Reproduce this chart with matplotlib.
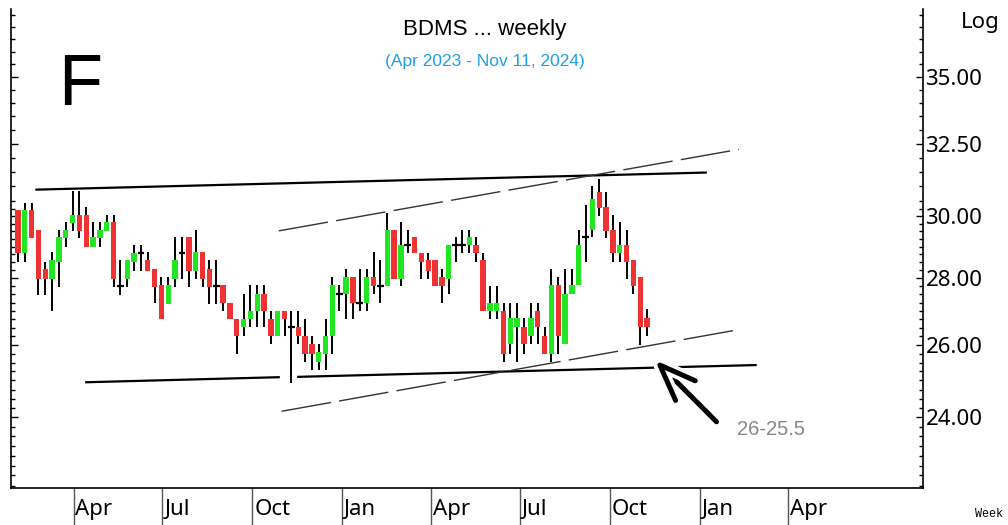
import numpy as np
import pandas as pd
import matplotlib
matplotlib.use('Agg')
import matplotlib.pyplot as plt
import matplotlib.dates as mdates
import matplotlib.transforms as mtransforms
import matplotlib.patheffects as pe
from matplotlib.ticker import FixedLocator, FixedFormatter, NullFormatter

# weekly bars, Feb 2023 .. Nov 2024
weeks = pd.date_range('2023-02-03', periods=93, freq='W-FRI')
opens = [30.20, 28.78, 30.20, 29.54, 28.29, 27.98, 28.51, 29.28, 29.76, 30.03,
         30.03, 29.00, 29.28, 29.49, 29.81, 27.76, 27.98, 28.51, 28.80, 28.57,
         28.29, 27.78, 27.22, 27.98, 28.80, 29.32, 28.24, 28.83, 28.29, 27.76,
         27.78, 27.25, 26.76, 26.52, 26.76, 27.00, 27.52, 26.76, 26.27, 27.00,
         26.54, 26.52, 26.27, 26.03, 25.52, 25.75, 26.27, 27.52, 27.52, 28.03,
         27.25, 27.25, 28.03, 27.75, 27.75, 29.54, 27.98, 29.06, 29.30, 28.80,
         28.57, 28.57, 28.03, 27.98, 29.06, 29.06, 29.06, 29.06, 28.57, 27.00,
         27.00, 27.00, 26.03, 26.52, 26.54, 26.27, 27.00, 26.27, 25.75, 27.78,
         26.03, 27.52, 27.78, 29.30, 29.54, 30.80, 30.31, 29.54, 28.80, 29.06,
         28.57, 28.05, 26.79]
highs = [30.20, 30.45, 30.45, 29.54, 28.51, 28.83, 29.54, 29.81, 30.83, 30.83,
         30.31, 29.81, 29.81, 30.03, 30.03, 28.57, 28.57, 29.06, 29.06, 28.83,
         28.29, 28.03, 28.03, 29.32, 29.32, 29.32, 29.54, 28.83, 28.57, 28.57,
         27.78, 27.25, 26.76, 27.52, 27.78, 27.78, 27.78, 27.00, 27.00, 27.00,
         27.00, 27.00, 26.76, 26.27, 26.03, 26.76, 28.03, 27.78, 28.29, 28.03,
         28.29, 28.29, 28.83, 28.57, 30.09, 29.54, 29.81, 29.54, 29.30, 28.80,
         28.80, 28.57, 28.29, 29.06, 29.30, 29.54, 29.54, 29.30, 28.80, 27.75,
         27.75, 27.25, 27.25, 27.25, 26.79, 27.25, 27.25, 26.52, 28.29, 28.03,
         28.29, 28.29, 29.54, 30.37, 31.00, 31.27, 30.80, 30.03, 29.81, 29.54,
         28.57, 28.05, 27.06]
lows = [28.51, 28.51, 29.28, 27.47, 27.47, 27.00, 27.73, 29.00, 29.49, 29.28,
        29.00, 29.00, 29.00, 29.49, 27.73, 27.47, 27.73, 28.24, 28.24, 28.24,
        27.25, 26.76, 27.22, 27.73, 27.98, 27.73, 27.98, 27.73, 27.22, 27.22,
        27.00, 26.76, 25.75, 26.27, 26.52, 26.52, 26.52, 26.03, 26.27, 26.27,
        24.94, 26.03, 25.52, 25.29, 25.29, 25.29, 25.75, 27.00, 26.76, 26.76,
        27.00, 27.00, 27.52, 27.25, 27.75, 27.98, 27.75, 28.78, 28.80, 27.98,
        27.98, 27.75, 27.25, 27.52, 28.51, 28.78, 28.78, 28.51, 27.00, 26.76,
        26.76, 25.52, 25.75, 25.52, 25.75, 26.03, 26.03, 25.75, 25.52, 25.75,
        26.03, 27.52, 27.78, 28.51, 29.30, 30.01, 29.27, 28.51, 28.51, 27.98,
        27.52, 26.00, 26.27]
closes = [28.78, 30.20, 29.28, 27.98, 27.98, 28.57, 29.32, 29.54, 30.03, 29.49,
          29.00, 29.30, 29.54, 29.81, 27.98, 27.76, 28.57, 28.80, 28.80, 28.24,
          27.73, 26.76, 27.78, 28.57, 28.80, 28.24, 28.83, 27.98, 27.73, 27.76,
          27.25, 26.76, 26.27, 26.76, 27.00, 27.52, 27.00, 26.27, 27.00, 26.76,
          26.54, 26.27, 25.75, 25.75, 25.80, 26.27, 27.78, 27.52, 28.03, 27.25,
          27.25, 28.03, 27.75, 27.75, 29.54, 27.98, 29.06, 29.06, 28.80, 28.51,
          28.24, 27.75, 27.75, 29.06, 29.06, 29.06, 29.30, 28.78, 27.00, 27.25,
          27.25, 25.75, 26.79, 26.79, 26.03, 26.79, 26.52, 25.75, 27.78, 26.27,
          27.52, 27.78, 29.06, 29.30, 30.56, 30.28, 29.51, 28.80, 29.06, 28.51,
          27.75, 26.54, 26.54]

quarter_dates = ['2023-04-01', '2023-07-01', '2023-10-01', '2024-01-01', '2024-04-01',
                 '2024-07-01', '2024-10-01', '2025-01-01', '2025-04-01']
quarter_labels = ['Apr', 'Jul', 'Oct', 'Jan', 'Apr', 'Jul', 'Oct', 'Jan', 'Apr']
price_ticks = [24, 26, 28, 30, 32.5, 35]

# hand drawn trend lines (date, price)
top_line = (['2023-02-22', '2025-01-07'], [30.89, 31.48])
base_line_a = (['2023-04-14', '2023-10-28'], [24.95, 25.09])
base_line_b = (['2023-11-17', '2025-02-27'], [25.10, 25.43])
chan_upper = (['2023-10-28', '2025-02-10'], [29.51, 32.30])
chan_lower = (['2023-10-31', '2025-02-12'], [24.16, 26.46])
arrow_tip = ('2024-11-16', 25.57)
arrow_tail = ('2025-01-18', 23.88)
note_pos = ('2025-02-08', 23.53)

plt.rcParams['font.family'] = 'Noto Sans'


def dnum(d):
    return mdates.date2num(pd.to_datetime(d))


fig = plt.figure(figsize=(10.08, 5.25), dpi=100)
ax = fig.add_axes([0.0109, 0.0705, 0.9045, 0.9124])

x = mdates.date2num(weeks)
o = np.array(opens)
c = np.array(closes)
up = c >= o
cols = np.where(up, '#22e622', '#f03232')

ax.vlines(x, lows, highs, color='black', lw=1.4, zorder=2)
ax.bar(x, np.abs(c - o), bottom=np.minimum(o, c), width=5.5, color=cols, linewidth=0, zorder=3)
doji = np.abs(c - o) < 0.02
ax.hlines(o[doji], x[doji] - 3.5, x[doji] + 3.5, color='black', lw=1.6, zorder=3)

for xs, ys in [top_line, base_line_a, base_line_b]:
    ax.plot(dnum(xs), ys, color='black', lw=1.6, zorder=2)
for xs, ys in [chan_upper, chan_lower]:
    ax.plot(dnum(xs), ys, color='#333333', lw=1.0, dashes=(36, 6), zorder=2)

ax.annotate('', xy=(dnum(arrow_tip[0]), arrow_tip[1]),
            xytext=(dnum(arrow_tail[0]), arrow_tail[1]),
            arrowprops=dict(arrowstyle='->,head_length=1.3,head_width=0.5',
                            lw=3.6, color='black', shrinkA=0, shrinkB=0,
                            mutation_scale=20, capstyle='round', joinstyle='round',
                            path_effects=[pe.withStroke(linewidth=9, foreground='white')]),
            zorder=4)
ax.text(dnum(note_pos[0]), note_pos[1], '26-25.5', color='#888888', fontsize=14.5,
        family='Liberation Sans', ha='left', va='baseline')

ax.set_yscale('log')
ax.set_ylim(22.19, 37.74)
ax.set_xlim(dnum('2023-01-27'), dnum('2025-08-17'))

ax.yaxis.set_major_locator(FixedLocator(price_ticks))
ax.yaxis.set_major_formatter(FixedFormatter(['%.2f' % v for v in price_ticks]))
minor = list(np.arange(22.25, 30.5, 0.25)) + list(np.arange(30.5, 38, 0.5))
ax.yaxis.set_minor_locator(FixedLocator(minor))
ax.yaxis.set_minor_formatter(NullFormatter())
ax.tick_params(axis='y', which='both', direction='in', left=True, right=True,
               labelleft=False, labelright=True, labelsize=16, pad=2)
ax.tick_params(axis='y', which='major', length=5, width=1)
ax.tick_params(axis='y', which='minor', length=3, width=1)

qx = dnum(quarter_dates)
ax.set_xticks(qx)
ax.set_xticklabels([])
ax.xaxis.set_minor_locator(FixedLocator([]))
ax.tick_params(axis='x', which='major', direction='out', length=27, width=1, color='#555555')
trans = mtransforms.blended_transform_factory(ax.transData, ax.transAxes)
for qd, lab in zip(qx, quarter_labels):
    ax.text(qd + 2, -0.0564, lab, transform=trans, ha='left', va='baseline', fontsize=16)

ax.spines['top'].set_visible(False)
for s in ['left', 'right', 'bottom']:
    ax.spines[s].set_linewidth(1.2)

fig.text(0.481, 0.9333, 'BDMS ... weekly', ha='center', va='baseline', fontsize=16,
         family='Liberation Sans')
fig.text(0.481, 0.874, '(Apr 2023 - Nov 11, 2024)', ha='center', va='baseline',
         fontsize=12.5, color='#1ea0e6', family='Liberation Sans')
fig.text(0.0799, 0.8, 'F', ha='center', va='baseline', fontsize=52, family='Liberation Sans')
fig.text(0.992, 0.9467, 'Log', ha='right', va='baseline', fontsize=16)
fig.text(0.995, 0.0152, 'Week', ha='right', va='baseline', fontsize=8.5, family='Liberation Mono')

fig.savefig('out.png', dpi=100)
